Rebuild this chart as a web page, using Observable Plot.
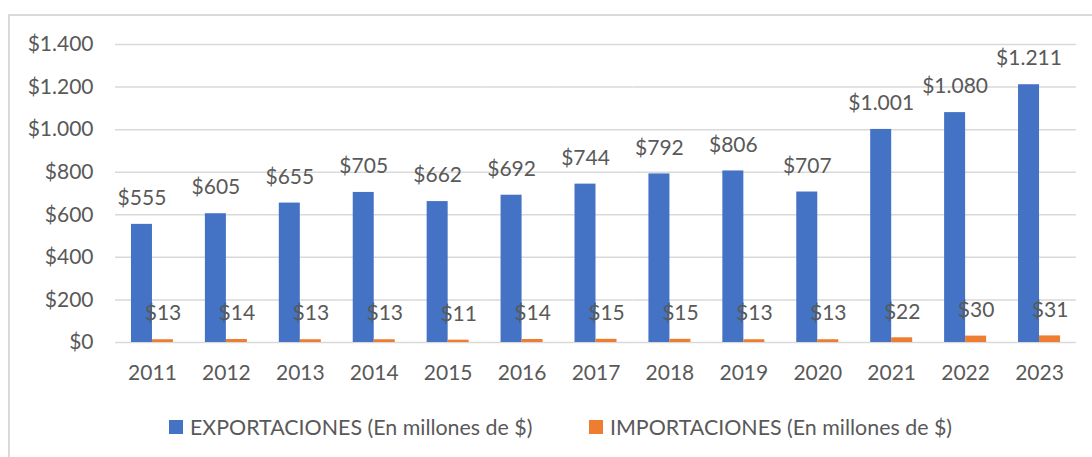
<!DOCTYPE html>
<html>
<head>
<meta charset="utf-8">
<script src="https://cdn.jsdelivr.net/npm/d3@7"></script>
<script src="https://cdn.jsdelivr.net/npm/@observablehq/plot@0.6"></script>
<style>
  html, body { margin: 0; padding: 0; background: #fff; width: 1092px; height: 457px; overflow: hidden; }
  #wrap { position: relative; width: 1092px; height: 457px; font-family: Lato, sans-serif; color: #595959; }
  #frame { position: absolute; left: 8px; top: 14px; width: 1100px; height: 460px; border-left: 2px solid #d9d9d9; border-top: 2px solid #d9d9d9; box-sizing: border-box; }
  #chart { position: absolute; left: 0; top: 0; }
  .leg { position: absolute; top: 414px; display: flex; align-items: center; font-size: 21.4px; white-space: nowrap; }
  .sw { width: 14px; height: 14px; margin-right: 7px; }
</style>
</head>
<body>
<div id="wrap">
  <div id="frame"></div>
  <div id="chart"></div>
  <div id="legend"></div>
</div>
<script>
const years = ["2011","2012","2013","2014","2015","2016","2017","2018","2019","2020","2021","2022","2023"];
const exportaciones = [555, 605, 655, 705, 662, 692, 744, 792, 806, 707, 1001, 1080, 1211];
const importaciones = [13, 14, 13, 13, 11, 14, 15, 15, 13, 13, 22, 30, 31];
const series = ["EXPORTACIONES (En millones de $)", "IMPORTACIONES (En millones de $)"];
const colors = ["#4472C4", "#ED7D31"];
const yTicks = [0, 200, 400, 600, 800, 1000, 1200, 1400];

const locale = d3.formatLocale({decimal: ",", thousands: ".", grouping: [3], currency: ["$", ""]});
const fmt = locale.format("$,");

const data = [];
years.forEach((y, i) => {
  data.push({year: y, serie: series[0], value: exportaciones[i]});
  data.push({year: y, serie: series[1], value: importaciones[i]});
});

const chart = Plot.plot({
  width: 1092,
  height: 400,
  marginLeft: 115,
  marginRight: 16,
  marginTop: 44,
  marginBottom: 58,
  style: {fontFamily: "Lato, sans-serif", fontSize: "21px", color: "#595959", background: "transparent", overflow: "visible"},
  fx: {domain: years, padding: 0, round: false, label: null, axis: "bottom", tickSize: 0, tickPadding: 23},
  x: {domain: series, axis: null, round: false, paddingInner: 0, paddingOuter: 0.76},
  y: {domain: [0, 1400], ticks: yTicks, tickFormat: fmt, tickSize: 0, tickPadding: 22, label: null},
  color: {domain: series, range: colors},
  marks: [
    Plot.ruleY(yTicks, {stroke: "#d9d9d9", strokeWidth: 1.5}),
    Plot.barY(data, {fx: "year", x: "serie", y: "value", fill: "serie"}),
    Plot.text(data, {fx: "year", x: "serie", y: "value", text: d => fmt(d.value), dy: -26, fill: "#595959"})
  ]
});
document.getElementById("chart").appendChild(chart);

const legend = document.getElementById("legend");
const legX = [169, 589];
series.forEach((s, i) => {
  const item = document.createElement("div");
  item.className = "leg";
  item.style.left = legX[i] + "px";
  const sw = document.createElement("span");
  sw.className = "sw";
  sw.style.background = colors[i];
  const t = document.createElement("span");
  t.textContent = s;
  item.appendChild(sw);
  item.appendChild(t);
  legend.appendChild(item);
});
</script>
</body>
</html>
